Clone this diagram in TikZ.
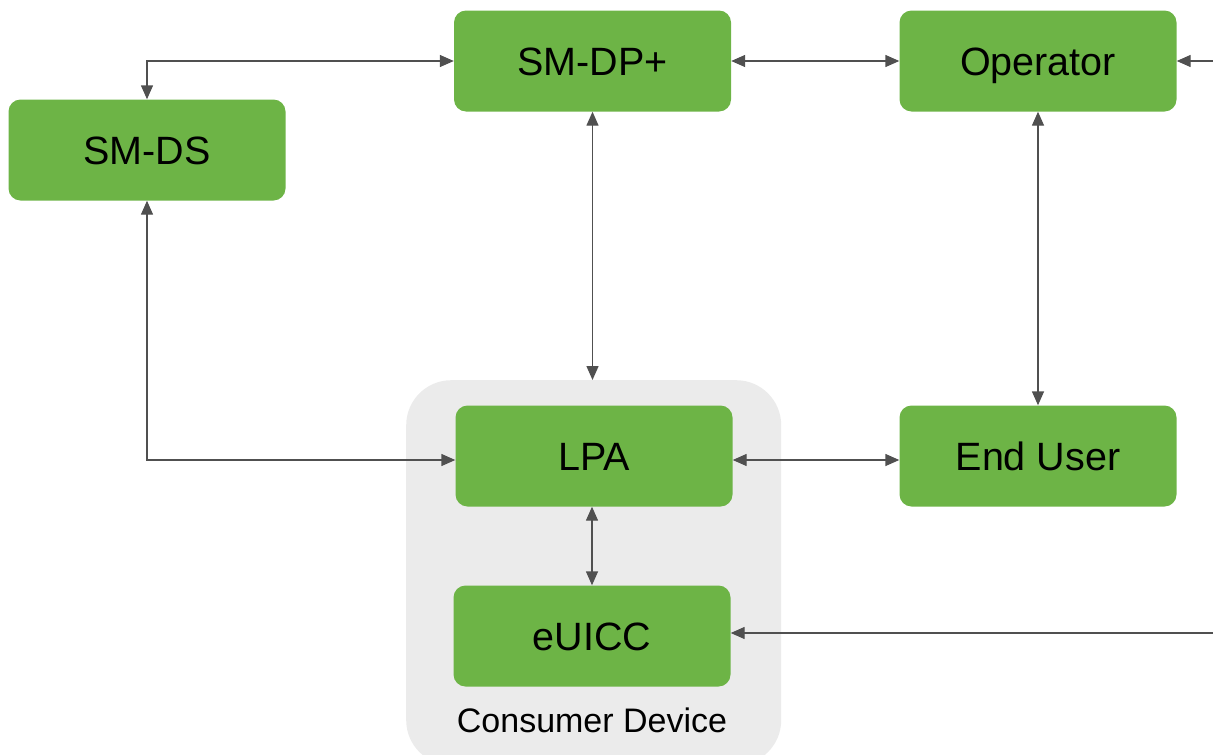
\documentclass[tikz,border=0pt]{standalone}
\usepackage{fontspec}
\setmainfont{Liberation Sans}
\usetikzlibrary{arrows.meta}
\definecolor{boxgreen}{HTML}{6DB446}
\definecolor{devgrey}{HTML}{EBEBEB}
\definecolor{linkgrey}{HTML}{505050}
\tikzset{
  block/.style={fill=boxgreen, rounded corners=12pt, minimum width=277pt,
    minimum height=101pt, inner sep=0pt, font=\fontsize{39.5}{44}\selectfont,
    text height=28.5pt, text depth=0pt},
  link/.style={draw=linkgrey, line width=1.4pt,
    {Triangle[length=14pt,width=12pt]}-{Triangle[length=14pt,width=12pt]}},
  feed/.style={draw=linkgrey, line width=1.4pt, -{Triangle[length=14pt,width=12pt]}}
}
\begin{document}
\begin{tikzpicture}[x=1pt,y=-1pt]
  \useasboundingbox (0,0) rectangle (1213,755);
  \clip (0,0) rectangle (1213,755);

  % device enclosure
  \node[fill=devgrey, rounded corners=45pt, minimum width=375pt, minimum height=385pt,
    inner sep=0pt, anchor=north west] (device) at (406,380) {};
  \node[font=\fontsize{34}{40}\selectfont, text height=24.5pt, text depth=0pt]
    (devlabel) at (592,720) {Consumer Device};

  % components
  \node[block] (smds) at (147,150) {SM-DS};
  \node[block] (smdp) at (592.5,61) {SM-DP+};
  \node[block] (oper) at (1038,61) {Operator};
  \node[block] (lpa) at (594,456) {LPA};
  \node[block] (user) at (1038,456) {End User};
  \node[block] (euicc) at (592,636) {eUICC};

  % external feeds entering from the right
  \coordinate (extop) at (1213,61);
  \coordinate (exbot) at (1213,633);

  % connections
  \draw[link] (smds.north) |- (smdp.west);
  \draw[link] (smds.south) |- ([yshift=-4pt]lpa.west);
  \draw[link] (smdp.south) -- (smdp.south |- device.north);
  \draw[link] (smdp.east) -- (oper.west);
  \draw[link] (oper.south) -- (user.north);
  \draw[link] ([yshift=-4pt]lpa.east) -- ([yshift=-4pt]user.west);
  \draw[link] (lpa.south -| euicc.north) -- (euicc.north);
  \draw[feed] (extop) -- (oper.east);
  \draw[feed] (exbot) -- (exbot -| euicc.east);
\end{tikzpicture}
\end{document}
